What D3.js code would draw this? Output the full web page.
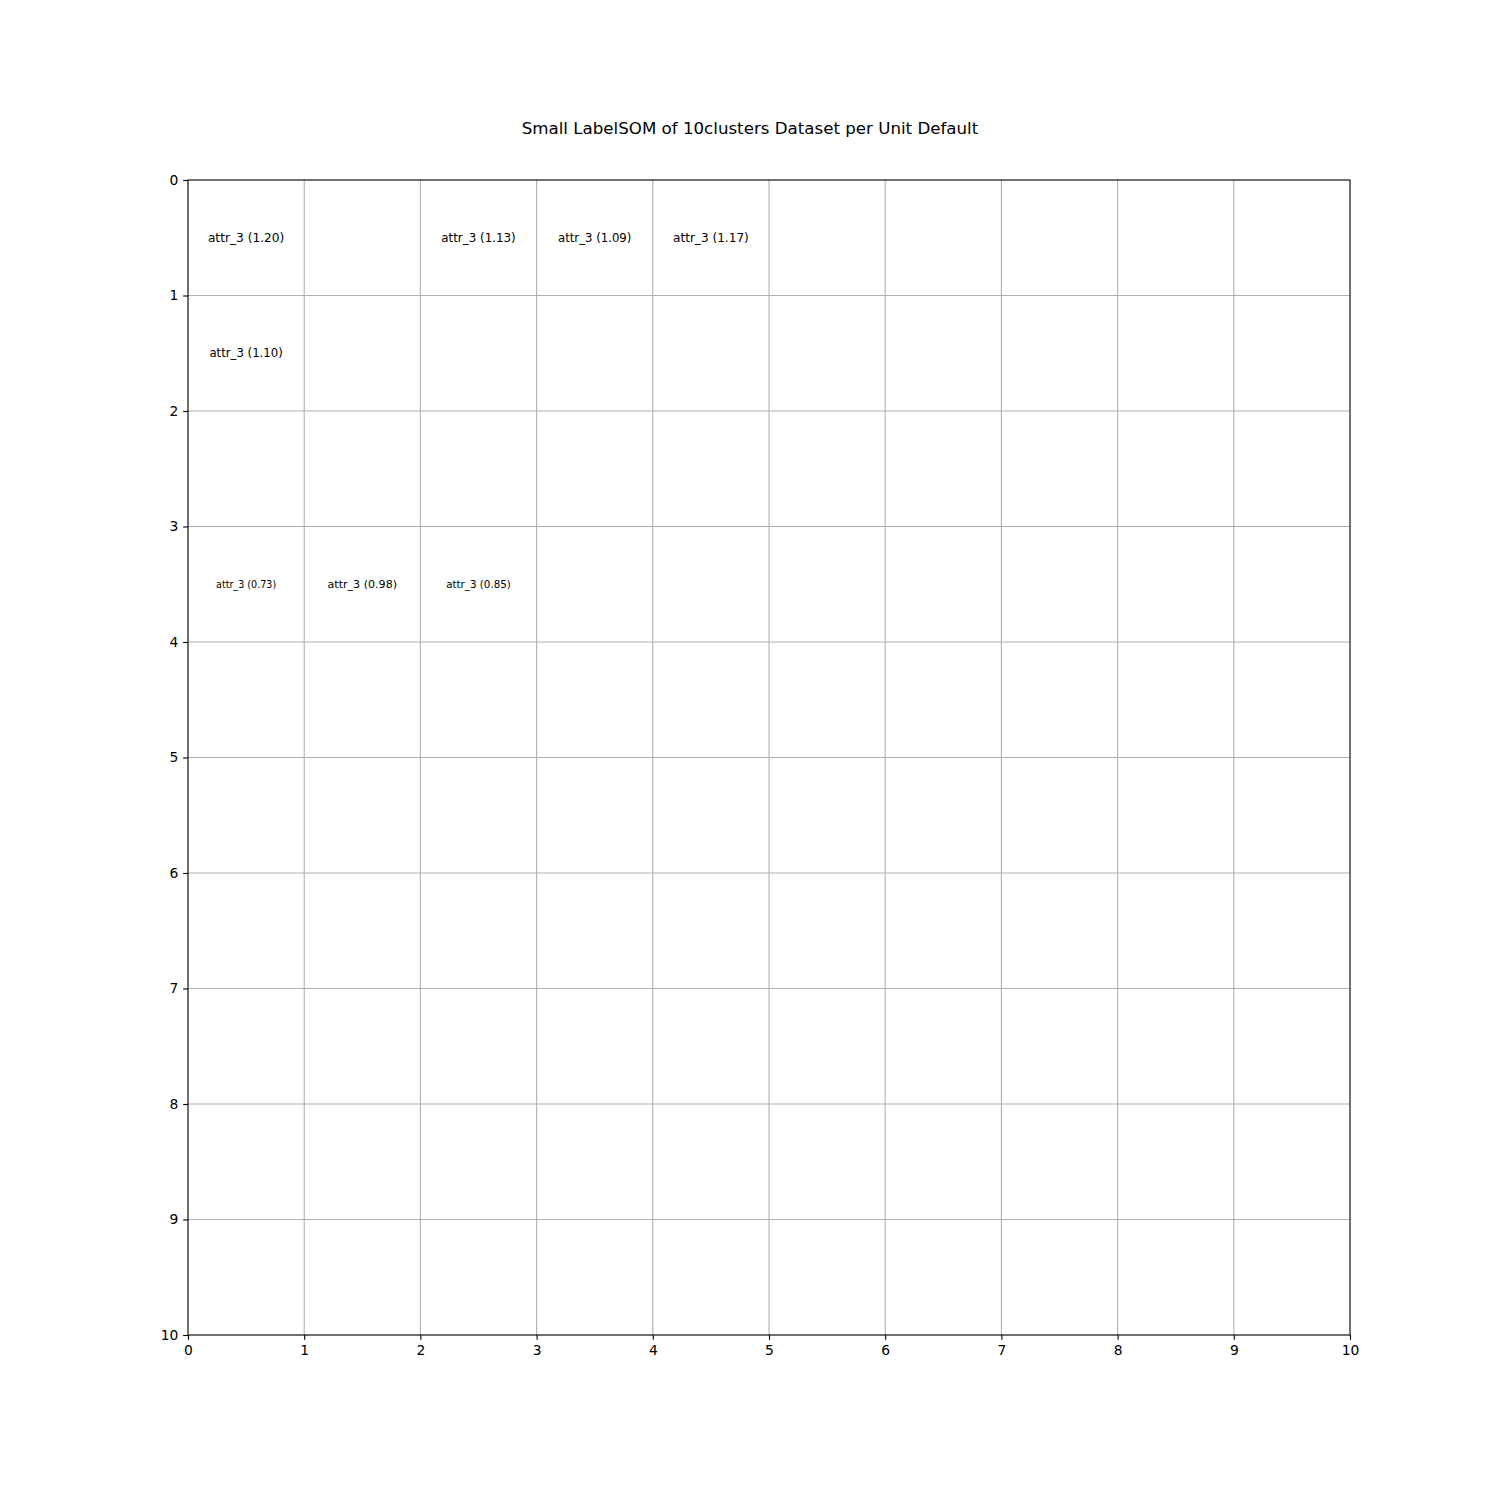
<!DOCTYPE html>
<html><head><meta charset="utf-8">
<script src="https://cdn.jsdelivr.net/npm/d3@7"></script>
<style>body{margin:0;background:#fff}</style>
</head><body>
<div id="chart"></div>
<script>
const title = "Small LabelSOM of 10clusters Dataset per Unit Default";
const gridSize = 10;
const ticks = [0,1,2,3,4,5,6,7,8,9,10];
const labelCol = [0, 0, 2, 3, 4, 0, 1, 2];
const labelRow = [0, 1, 0, 0, 0, 3, 3, 3];
const labelText = ["attr_3 (1.20)","attr_3 (1.10)","attr_3 (1.13)","attr_3 (1.09)","attr_3 (1.17)","attr_3 (0.73)","attr_3 (0.98)","attr_3 (0.85)"];
const labelSize = [12.2, 11.7, 11.9, 11.7, 12.1, 9.6, 11.1, 10.3];

const W = 1500, H = 1500;
const m = {left:188, right:1350, top:180, bottom:1335};
const svg = d3.select("#chart").append("svg").attr("width",W).attr("height",H)
  .style("font-family","'DejaVu Sans', sans-serif");
svg.append("rect").attr("width",W).attr("height",H).attr("fill","#fff");

const x = d3.scaleLinear().domain([0,gridSize]).range([m.left,m.right]);
const y = d3.scaleLinear().domain([0,gridSize]).range([m.top,m.bottom]);

// grid
const g = svg.append("g");
g.selectAll(".vg").data(ticks.slice(1,-1)).join("line")
  .attr("x1",d=>x(d)).attr("x2",d=>x(d)).attr("y1",m.top).attr("y2",m.bottom)
  .attr("stroke","#b0b0b0").attr("stroke-width",1.11);
g.selectAll(".hg").data(ticks.slice(1,-1)).join("line")
  .attr("y1",d=>y(d)).attr("y2",d=>y(d)).attr("x1",m.left).attr("x2",m.right)
  .attr("stroke","#b0b0b0").attr("stroke-width",1.11);

// labels
svg.append("g").selectAll("text").data(labelText).join("text")
  .attr("x",(d,i)=>x(labelCol[i]+0.5)).attr("y",(d,i)=>y(labelRow[i]+0.5))
  .attr("text-anchor","middle").attr("dominant-baseline","central")
  .attr("font-size",(d,i)=>labelSize[i]+"px").attr("fill","#000").text(d=>d);

// frame
svg.append("rect").attr("x",m.left).attr("y",m.top).attr("width",m.right-m.left).attr("height",m.bottom-m.top)
  .attr("fill","none").attr("stroke","#000").attr("stroke-width",1.11);

// axes
const xa = svg.append("g").attr("transform",`translate(0,${m.bottom})`)
  .call(d3.axisBottom(x).tickValues(ticks).tickFormat(d3.format("d")).tickSize(4.86).tickPadding(4.86));
const ya = svg.append("g").attr("transform",`translate(${m.left},0)`)
  .call(d3.axisLeft(y).tickValues(ticks).tickFormat(d3.format("d")).tickSize(4.86).tickPadding(4.86));
[xa,ya].forEach(a=>{
  a.select(".domain").remove();
  a.selectAll("text").attr("font-size","13.89px").attr("font-family","'DejaVu Sans', sans-serif").attr("fill","#000");
  a.selectAll("line").attr("stroke","#000").attr("stroke-width",1.11);
});

svg.append("text").attr("x",W/2).attr("y",128)
  .attr("text-anchor","middle").attr("dominant-baseline","central")
  .attr("font-size","16.67px").attr("fill","#000").text(title);
</script>
</body></html>
